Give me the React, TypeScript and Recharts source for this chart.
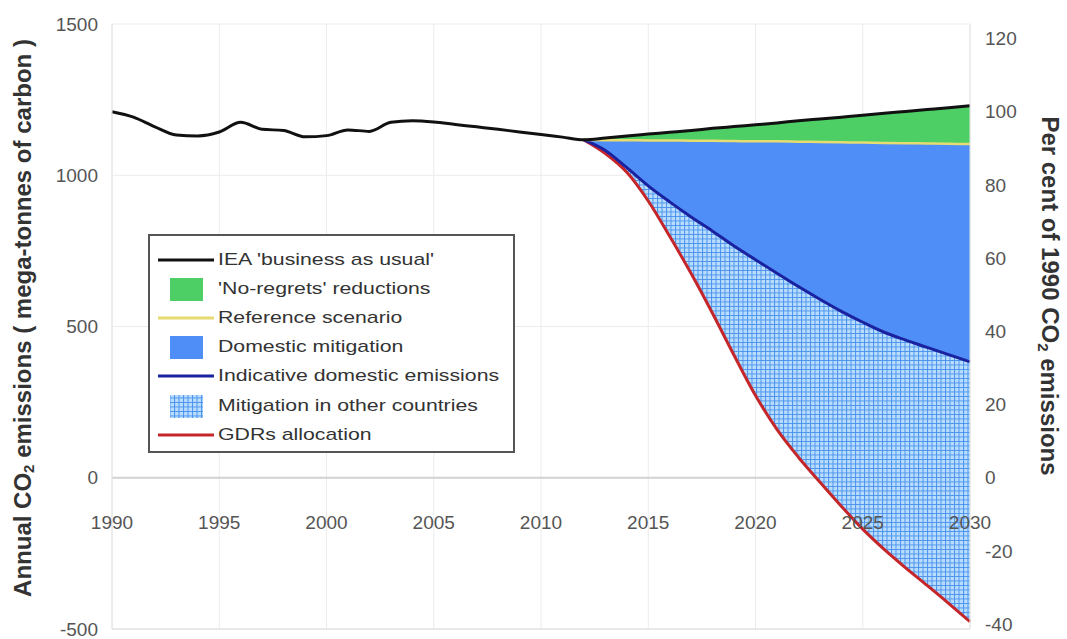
import { ComposedChart, Area, Line, XAxis, YAxis, CartesianGrid, Legend, Label } from 'recharts';

const years = [
  1990, 1991, 1992, 1993, 1994, 1995, 1996, 1997, 1998, 1999, 2000, 2001, 2002, 2003, 2004, 2005, 2006, 2007, 2008, 2009,
  2010, 2011, 2012, 2013, 2014, 2015, 2016, 2017, 2018, 2019, 2020, 2021, 2022, 2023, 2024, 2025, 2026, 2027, 2028, 2029, 2030,
];

// IEA business as usual, 1990-2030
const bau = [
  1210, 1192, 1160, 1133, 1130, 1143, 1175, 1152, 1148, 1127, 1131, 1150, 1145, 1175, 1180, 1176, 1168, 1160, 1152, 1143,
  1135, 1126, 1117, 1123, 1130, 1136, 1142, 1148, 1155, 1161, 1167, 1173, 1180, 1186, 1192, 1198, 1205, 1211, 1217, 1223, 1230,
];

// scenarios start in 2012
const scenarioStart = 2012;
const reference = [1117, 1116, 1116, 1115, 1115, 1114, 1114, 1113, 1112, 1112, 1111, 1110, 1109, 1108, 1107, 1106, 1105, 1104, 1103];
const indicative = [1117, 1082, 1025, 965, 912, 862, 815, 766, 721, 676, 632, 590, 550, 514, 481, 455, 431, 407, 383];
const gdrs = [1117, 1072, 1010, 915, 798, 675, 543, 405, 272, 160, 68, -14, -94, -170, -237, -298, -356, -415, -476];

const baseline1990 = 1210;
const leftTicks = [-500, 0, 500, 1000, 1500];
const rightTicks = [-40, -20, 0, 20, 40, 60, 80, 100, 120];
const xTicks = [1990, 1995, 2000, 2005, 2010, 2015, 2020, 2025, 2030];

const legendItems = [
  { label: "IEA  'business as usual'", kind: 'line', color: '#111111' },
  { label: "'No-regrets' reductions", kind: 'rect', color: '#4dcf66' },
  { label: 'Reference scenario', kind: 'line', color: '#e6dc72' },
  { label: 'Domestic mitigation', kind: 'rect', color: '#4f8ef6' },
  { label: 'Indicative domestic emissions', kind: 'line', color: '#1a22a0' },
  { label: 'Mitigation in other countries', kind: 'hatch', color: '#4a94ee' },
  { label: 'GDRs allocation', kind: 'line', color: '#c4262a' },
];

const data = years.map((year, i) => {
  const j = year - scenarioStart;
  const row: any = { year, bau: bau[i] };
  if (j >= 0) {
    row.reference = reference[j];
    row.indicative = indicative[j];
    row.gdrs = gdrs[j];
    row.noRegrets = [reference[j], bau[i]];
    row.domestic = [indicative[j], reference[j]];
    row.other = [gdrs[j], indicative[j]];
  }
  return row;
});

const font = '"Liberation Sans", Arial, sans-serif';
const tickColor = '#555';

// year labels sit just under the zero line, not at the bottom of the plot
function XTick(props: any) {
  const { x, y, payload } = props;
  return (
    <text x={x} y={y - 108} textAnchor="middle" fill={tickColor} fontSize={19} fontFamily={font}>
      {payload.value}
    </text>
  );
}

function HatchDef({ id }: { id: string }) {
  return (
    <pattern id={id} width={4.5} height={4.5} patternUnits="userSpaceOnUse">
      <rect width={4.5} height={4.5} fill="#b8ddff" />
      <path d="M0 0.5H4.5M0.5 0V4.5" stroke="#4b93ec" strokeWidth={1} />
    </pattern>
  );
}

function LegendBox() {
  return (
    <div
      style={{
        width: 367,
        height: 219,
        border: '2px solid #555',
        background: '#fff',
        fontFamily: font,
        fontSize: 17,
        color: '#333',
        paddingTop: 9,
        boxSizing: 'border-box',
      }}
    >
      {legendItems.map((it) => (
        <div key={it.label} style={{ display: 'flex', alignItems: 'center', height: 29.2 }}>
          <svg width={62} height={26} style={{ marginLeft: 6, flex: 'none' }}>
            <defs>
              <HatchDef id="hatchLegend" />
            </defs>
            {it.kind === 'line' && <line x1={2} x2={58} y1={13} y2={13} stroke={it.color} strokeWidth={3} />}
            {it.kind === 'rect' && <rect x={14} y={2} width={33} height={23} fill={it.color} />}
            {it.kind === 'hatch' && <rect x={14} y={2} width={33} height={23} fill="url(#hatchLegend)" />}
          </svg>
          <span style={{ display: 'inline-block', transform: 'scaleX(1.25)', transformOrigin: 'left center', whiteSpace: 'nowrap' }}>
            {it.label}
          </span>
        </div>
      ))}
    </div>
  );
}

export default function App() {
  return (
    <div style={{ position: 'absolute', left: 0, top: 0, background: '#fff' }}>
      <ComposedChart width={1067} height={639} data={data} margin={{ top: 24, right: 0, bottom: 9, left: 0 }}>
        <defs>
          <HatchDef id="hatch" />
        </defs>
        <CartesianGrid stroke="#ececec" yAxisId="mt" />
        <CartesianGrid yAxisId="mt" vertical={false} horizontalValues={[0]} stroke="#d2d2d2" strokeWidth={2} />
        <XAxis
          dataKey="year"
          type="number"
          domain={[1990, 2030]}
          ticks={xTicks}
          height={1}
          tickLine={false}
          axisLine={{ stroke: '#dddddd' }}
          tick={(p: any) => <XTick {...p} />}
          interval={0}
        />
        <YAxis
          yAxisId="mt"
          domain={[-500, 1500]}
          ticks={leftTicks}
          interval={0}
          width={112}
          tickLine={false}
          tickSize={6}
          tickMargin={8}
          axisLine={{ stroke: '#e4e4e4' }}
          tick={{ fill: tickColor, fontSize: 19, fontFamily: font }}
        >
          <Label
            content={() => (
              <text
                x={22}
                y={318}
                transform="rotate(-90 22 318)"
                textAnchor="middle"
                dominantBaseline="central"
                fontFamily={font}
                fontWeight="bold"
                fontSize={24}
                fill="#333"
              >
                Annual CO
                <tspan dy={6} fontSize={15}>2</tspan>
                <tspan dy={-6}> emissions ( mega-tonnes of carbon )</tspan>
              </text>
            )}
          />
        </YAxis>
        <YAxis
          yAxisId="pct"
          orientation="right"
          domain={[-500 / (baseline1990 / 100), 1500 / (baseline1990 / 100)]}
          ticks={rightTicks}
          interval={0}
          width={97}
          tickLine={false}
          tickSize={6}
          tickMargin={9}
          axisLine={{ stroke: '#e4e4e4' }}
          allowDataOverflow
          tick={{ fill: tickColor, fontSize: 19, fontFamily: font, textAnchor: 'start' }}
        >
          <Label
            content={() => (
              <text
                x={1050}
                y={296}
                transform="rotate(90 1050 296)"
                textAnchor="middle"
                dominantBaseline="central"
                fontFamily={font}
                fontWeight="bold"
                fontSize={24}
                fill="#333"
              >
                Per cent of 1990 CO
                <tspan dy={6} fontSize={15}>2</tspan>
                <tspan dy={-6}> emissions</tspan>
              </text>
            )}
          />
        </YAxis>
        <Area yAxisId="mt" type="monotone" dataKey="other" fill="url(#hatch)" fillOpacity={1} stroke="none" isAnimationActive={false} />
        <Area yAxisId="mt" type="monotone" dataKey="domestic" fill="#4f8ef6" fillOpacity={1} stroke="none" isAnimationActive={false} />
        <Area yAxisId="mt" type="monotone" dataKey="noRegrets" fill="#4dcf66" fillOpacity={1} stroke="none" isAnimationActive={false} />
        <Line yAxisId="mt" type="monotone" dataKey="gdrs" stroke="#c4262a" strokeWidth={3} dot={false} isAnimationActive={false} />
        <Line yAxisId="mt" type="monotone" dataKey="indicative" stroke="#1a22a0" strokeWidth={3} dot={false} isAnimationActive={false} />
        <Line yAxisId="mt" type="monotone" dataKey="reference" stroke="#e6dc72" strokeWidth={2.5} dot={false} isAnimationActive={false} />
        <Line yAxisId="mt" type="monotone" dataKey="bau" stroke="#111111" strokeWidth={3} dot={false} isAnimationActive={false} />
        <Legend
          layout="vertical"
          align="center"
          verticalAlign="middle"
          content={() => <LegendBox />}
          wrapperStyle={{ position: 'absolute', left: 148, top: 234, width: 'auto', height: 'auto' }}
        />
      </ComposedChart>
    </div>
  );
}
